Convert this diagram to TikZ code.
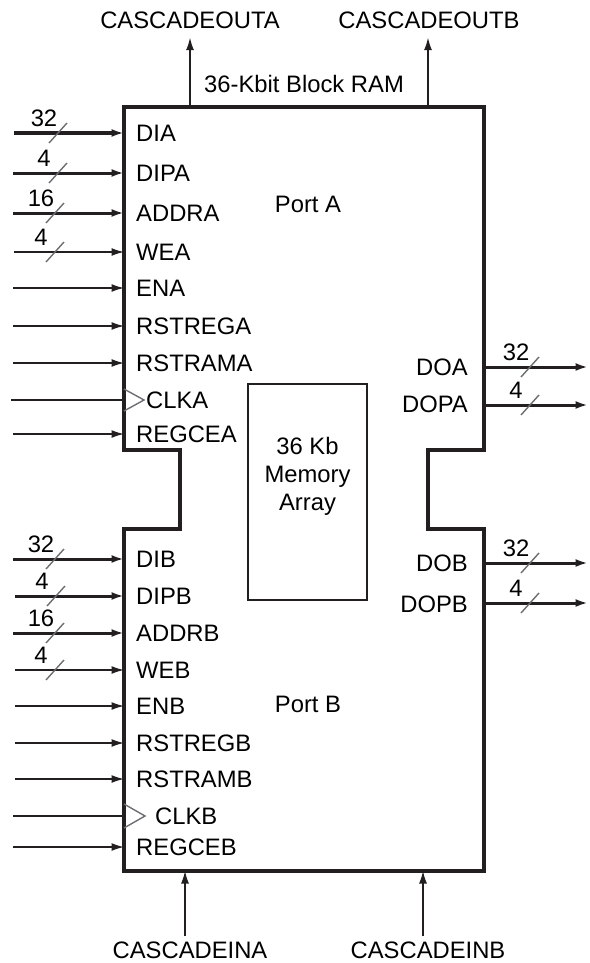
\documentclass[tikz,border=0pt]{standalone}
\usepackage{fontspec}
\setmainfont{Liberation Sans}
\usepackage{tikz}
\usetikzlibrary{arrows.meta}
\usepackage{xcolor}
\definecolor{inkblack}{HTML}{231F20}
\definecolor{tickgray}{HTML}{6D6E71}
% slash with the bus width written above it
\newcommand{\buswidth}[4]{%
  \draw[tick] (#2-9,#3+10) -- (#2+9,#3-10);
  \node[wlabel] (#1) at (#2-14,#3-6) {#4};}

\begin{document}
\begin{tikzpicture}[x=1pt, y=-1pt, font=\fontsize{23.8}{28}\selectfont,
      outline/.style={line width=3.5pt, draw=inkblack},
      pinlbl/.style={anchor=west, inner xsep=12pt, inner ysep=0pt},
      clklbl/.style={pinlbl, inner xsep=22pt},
      outlbl/.style={anchor=east, inner xsep=16pt, inner ysep=0pt},
      sig/.style={-{Latex[length=12.5pt,width=8pt]}, line width=1.4pt, draw=inkblack},
      bus/.style={sig, line width=3pt},
      clk/.style={line width=1.4pt, draw=inkblack},
      tick/.style={line width=1.4pt, draw=tickgray},
      wlabel/.style={anchor=south, inner sep=0pt},
      caslbl/.style={inner xsep=0pt, inner ysep=9pt}
    ]
    \useasboundingbox (0,0) rectangle (589,963);

    % block outline with the two notches
    \draw[outline] (124,107) -- (484,107) -- (484,450) -- (428,450) -- (428,529)
      -- (484,529) -- (484,871) -- (124,871) -- (124,529) -- (180,529)
      -- (180,450) -- (124,450) -- cycle;

    \node (title) at (304,84) {36-Kbit Block RAM};
    \node (portA) at (308,204) {Port A};
    \node (portB) at (308,704) {Port B};

    \node[draw=inkblack, line width=2.8pt, minimum width=119pt, minimum height=216pt,
          inner sep=0pt] (mem) at (307.5,492) {};
    \node[align=center, inner sep=0pt] (memtxt) at (307.5,476) {36 Kb\\Memory\\Array};

    % cascade ports
    \node[caslbl] (CASCADEOUTA) at (190,20) {CASCADEOUTA};
    \node[caslbl] (CASCADEOUTB) at (429,20) {CASCADEOUTB};
    \node[caslbl, inner ysep=5pt] (CASCADEINA) at (190,950) {CASCADEINA};
    \node[caslbl, inner ysep=5pt] (CASCADEINB) at (428,950) {CASCADEINB};
    \coordinate (coA) at (190,107);
    \coordinate (coB) at (428,107);
    \coordinate (ciA) at (185,871);
    \coordinate (ciB) at (423,871);
    \draw[sig] (coA) -- (CASCADEOUTA.south -| coA);
    \draw[sig] (coB) -- (CASCADEOUTB.south -| coB);
    \draw[sig] (CASCADEINA.north -| ciA) -- (ciA);
    \draw[sig] (CASCADEINB.north -| ciB) -- (ciB);

    % port A inputs
    \node[pinlbl] (DIA)     at (124,133) {DIA};
    \node[pinlbl] (DIPA)    at (124,173) {DIPA};
    \node[pinlbl] (ADDRA)   at (124,213) {ADDRA};
    \node[pinlbl] (WEA)     at (124,252) {WEA};
    \node[pinlbl] (ENA)     at (124,288) {ENA};
    \node[pinlbl] (RSTREGA) at (124,326) {RSTREGA};
    \node[pinlbl] (RSTRAMA) at (124,363) {RSTRAMA};
    \node[clklbl] (CLKA)    at (124,400) {CLKA};
    \node[pinlbl] (REGCEA)  at (124,434) {REGCEA};

    \coordinate (sDIA) at (14,133);
    \coordinate (sDIPA) at (13,173);
    \coordinate (sADDRA) at (13,213);
    \coordinate (sWEA) at (14,252);
    \coordinate (sENA) at (13,288);
    \coordinate (sRSTREGA) at (13,326);
    \coordinate (sRSTRAMA) at (13,363);
    \coordinate (sCLKA) at (11,400);
    \coordinate (sREGCEA) at (13,434);

    \draw[bus] (sDIA) -- (DIA.west);
    \draw[bus] (sDIPA) -- (DIPA.west);
    \draw[bus] (sADDRA) -- (ADDRA.west);
    \draw[sig] (sWEA) -- (WEA.west);
    \draw[sig] (sENA) -- (ENA.west);
    \draw[sig] (sRSTREGA) -- (RSTREGA.west);
    \draw[sig] (sRSTRAMA) -- (RSTRAMA.west);
    \draw[clk] (sCLKA) -- (CLKA.west);
    \draw[sig] (sREGCEA) -- (REGCEA.west);
    \draw[tick] (CLKA.west) ++(0,-11) -- ++(20,11) -- ++(-20,11);

    \buswidth{wDIA}{58}{133}{32}
    \buswidth{wDIPA}{58}{173}{4}
    \buswidth{wADDRA}{55}{213}{16}
    \buswidth{wWEA}{55}{252}{4}

    % port B inputs
    \node[pinlbl] (DIB)     at (124,559) {DIB};
    \node[pinlbl] (DIPB)    at (124,596) {DIPB};
    \node[pinlbl] (ADDRB)   at (124,633) {ADDRB};
    \node[pinlbl] (WEB)     at (124,670) {WEB};
    \node[pinlbl] (ENB)     at (124,706) {ENB};
    \node[pinlbl] (RSTREGB) at (124,743) {RSTREGB};
    \node[pinlbl] (RSTRAMB) at (124,779) {RSTRAMB};
    \node[clklbl, inner xsep=31pt] (CLKB) at (124,816) {CLKB};
    \node[pinlbl] (REGCEB)  at (124,847) {REGCEB};

    \coordinate (sDIB) at (13,559);
    \coordinate (sDIPB) at (15,596);
    \coordinate (sADDRB) at (13,633);
    \coordinate (sWEB) at (15,670);
    \coordinate (sENB) at (15,706);
    \coordinate (sRSTREGB) at (15,743);
    \coordinate (sRSTRAMB) at (15,779);
    \coordinate (sCLKB) at (13,816);
    \coordinate (sREGCEB) at (13,847);

    \draw[bus] (sDIB) -- (DIB.west);
    \draw[bus] (sDIPB) -- (DIPB.west);
    \draw[bus] (sADDRB) -- (ADDRB.west);
    \draw[sig] (sWEB) -- (WEB.west);
    \draw[sig] (sENB) -- (ENB.west);
    \draw[sig] (sRSTREGB) -- (RSTREGB.west);
    \draw[sig] (sRSTRAMB) -- (RSTRAMB.west);
    \draw[clk] (sCLKB) -- (CLKB.west);
    \draw[sig] (sREGCEB) -- (REGCEB.west);
    \draw[tick] (CLKB.west) ++(0,-12) -- ++(21,12) -- ++(-21,12);

    \buswidth{wDIB}{55}{559}{32}
    \buswidth{wDIPB}{56}{596}{4}
    \buswidth{wADDRB}{55}{633}{16}
    \buswidth{wWEB}{55}{670}{4}

    % outputs
    \node[outlbl] (DOA)  at (484,367) {DOA};
    \node[outlbl] (DOPA) at (484,404) {DOPA};
    \node[outlbl] (DOB)  at (484,563) {DOB};
    \node[outlbl] (DOPB) at (484,604) {DOPB};
    \coordinate (eDOA) at (588,367);
    \coordinate (eDOPA) at (588,405);
    \coordinate (eDOB) at (588,563);
    \coordinate (eDOPB) at (588,603);
    \draw[bus] (DOA.east) -- (eDOA);
    \draw[bus] (DOPA.east |- eDOPA) -- (eDOPA);
    \draw[bus] (DOB.east) -- (eDOB);
    \draw[bus] (DOPB.east |- eDOPB) -- (eDOPB);

    \buswidth{wDOA}{530}{367}{32}
    \buswidth{wDOPA}{530}{405}{4}
    \buswidth{wDOB}{530}{563}{32}
    \buswidth{wDOPB}{530}{603}{4}
  \end{tikzpicture}
\end{document}
